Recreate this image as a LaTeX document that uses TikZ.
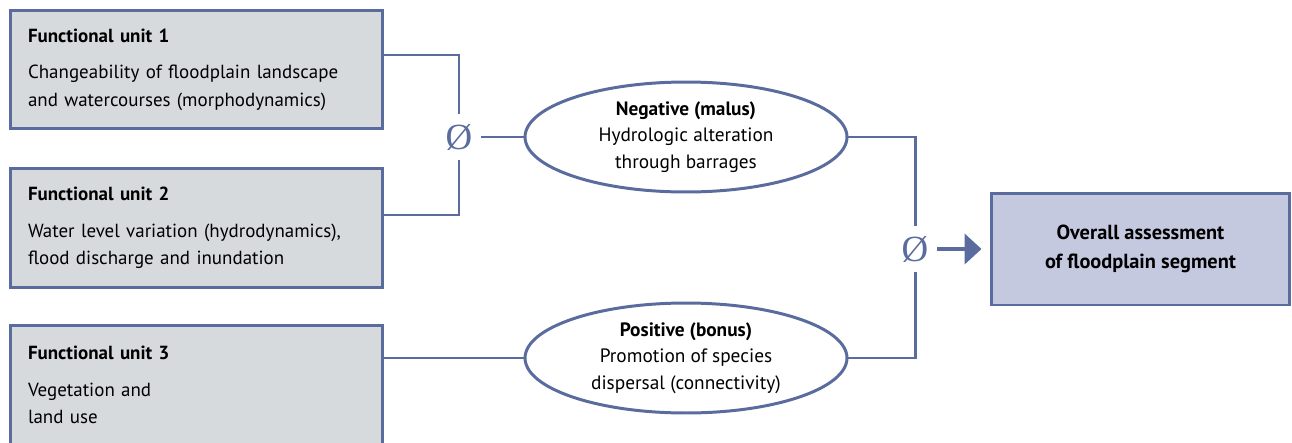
\documentclass[tikz,border=0pt]{standalone}
\usepackage{fontspec}
\setmainfont{PT Sans}
\newfontfamily\avgfont{Liberation Serif}
\usepackage{tikz}
\usetikzlibrary{arrows.meta}
\usetikzlibrary{ shapes.geometric }

\definecolor{frameblue}{RGB}{90,108,158}
\definecolor{unitgray}{RGB}{215,218,220}
\definecolor{resultblue}{RGB}{197,201,223}

\begin{document}
\begin{tikzpicture}[x=0.02cm,y=-0.02cm,
        unit/.style={draw=frameblue,line width=1.7pt,fill=unitgray,
            minimum width=7.46cm,minimum height=2.38cm,text width=6.74cm,
            align=left,inner sep=0pt,font=\fontsize{10.8}{15.8}\selectfont},
        effect/.style={ellipse,draw=frameblue,line width=1.7pt,fill=white,
            minimum width=6.44cm,minimum height=2.2cm,align=center,inner sep=0pt,
            font=\fontsize{11}{15}\selectfont},
        avg/.style={inner sep=0pt,minimum width=0.88cm,minimum height=0.9cm,
            text=frameblue,font=\avgfont\fontsize{21}{21}\selectfont},
        link/.style={draw=frameblue,line width=1.7pt}
    ]
        \useasboundingbox (0,0) rectangle (1292,443);

        % functional units
        \node[unit] (fu1) at (196.5,69.5) {\textbf{Functional unit 1}\\[5pt]
            Changeability of floodplain landscape\\and watercourses (morphodynamics)};
        \node[unit] (fu2) at (196.5,228) {\textbf{Functional unit 2}\\[5pt]
            Water level variation (hydrodynamics),\\flood discharge and inundation};
        \node[unit] (fu3) at (196.5,385) {\textbf{Functional unit 3}\\[5pt]
            Vegetation and\\land use};

        % averages
        \node[avg] (avg1) at (459,137) {Ø};
        \node[avg] (avg2) at (915,249) {Ø};

        % malus and bonus
        \node[effect] (neg) at (686,137) {\textbf{Negative (malus)}\\Hydrologic alteration\\through barrages};
        \node[effect] (pos) at (686,358) {\textbf{Positive (bonus)}\\Promotion of species\\dispersal (connectivity)};

        % result
        \node[draw=frameblue,line width=1.7pt,fill=resultblue,minimum width=5.98cm,
            minimum height=2.24cm,align=center,inner sep=0pt,
            font=\fontsize{11.6}{16.5}\selectfont] (overall) at (1140.5,249)
            {\textbf{Overall assessment}\\\textbf{of floodplain segment}};

        \draw[link] (fu1.east |- 0,55) -| (avg1.north);
        \draw[link] (fu2.east |- 0,215) -| (avg1.south);
        \draw[link] (avg1.east) -- (neg.west);
        \draw[link] (neg.east) -| (avg2.north);
        \draw[link] (pos.east) -| (avg2.south);
        \draw[link] (pos.west -| fu3.east) -- (pos.west);
        \draw[draw=frameblue,line width=2.8pt,shorten >=0.16cm,
            -{Triangle[length=0.34cm,width=0.6cm]},color=frameblue] (avg2.east) -- (overall.west);
    \end{tikzpicture}
\end{document}
